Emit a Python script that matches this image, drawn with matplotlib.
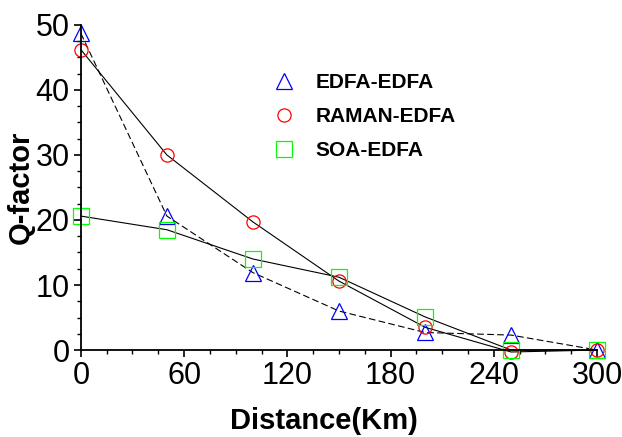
import matplotlib.pyplot as plt
from matplotlib.lines import Line2D
from matplotlib.ticker import MultipleLocator

# Q-factor vs distance for three amplifier combinations
distance = [0, 50, 100, 150, 200, 250, 300]
edfa_edfa = [48.7, 20.6, 11.9, 6.0, 2.7, 2.3, 0]
raman_edfa = [46.2, 30.0, 19.7, 10.6, 3.5, -0.3, 0]
soa_edfa = [20.6, 18.5, 14.0, 11.2, 5.1, 0, 0]

labels = ['EDFA-EDFA', 'RAMAN-EDFA', 'SOA-EDFA']

plt.rcParams['font.family'] = ['Liberation Sans', 'DejaVu Sans']

fig = plt.figure(figsize=(6.22, 4.37), dpi=100)
ax = fig.add_axes([0.130, 0.199, 0.830, 0.744])

# lines first, markers drawn on top
ax.plot(distance, edfa_edfa, color='black', lw=0.8, ls=(0, (6, 3)), clip_on=False)
ax.plot(distance, raman_edfa, color='black', lw=0.8, clip_on=False)
ax.plot(distance, soa_edfa, color='black', lw=0.8, clip_on=False)

ax.plot(distance, edfa_edfa, ls='none', marker='^', ms=11.5, mfc='none', mec='blue', mew=0.9, clip_on=False)
ax.plot(distance, raman_edfa, ls='none', marker='o', ms=9.5, mfc='none', mec='red', mew=0.9, clip_on=False)
ax.plot(distance, soa_edfa, ls='none', marker='s', ms=11.5, mfc='none', mec='lime', mew=0.9, clip_on=False)

ax.set_xlim(0, 300)
ax.set_ylim(0, 50)
ax.xaxis.set_major_locator(MultipleLocator(60))
ax.xaxis.set_minor_locator(MultipleLocator(15))
ax.yaxis.set_major_locator(MultipleLocator(10))
ax.yaxis.set_minor_locator(MultipleLocator(2.5))

for side in ['top', 'right']:
    ax.spines[side].set_visible(False)
for side in ['left', 'bottom']:
    ax.spines[side].set_linewidth(1.3)

ax.tick_params(which='major', length=5, width=1.2, labelsize=22, pad=3)
ax.tick_params(which='minor', length=3, width=1.0)

ax.set_xlabel('Distance(Km)', fontsize=21, fontweight='bold')
ax.xaxis.set_label_coords(0.47, -0.175)
ax.set_ylabel('Q-factor', fontsize=21, fontweight='bold')
ax.yaxis.set_label_coords(-0.09, 0.5)

handles = [
    Line2D([], [], ls='none', marker='^', ms=11.5, mfc='none', mec='blue', mew=0.9),
    Line2D([], [], ls='none', marker='o', ms=9.5, mfc='none', mec='red', mew=0.9),
    Line2D([], [], ls='none', marker='s', ms=11.5, mfc='none', mec='lime', mew=0.9),
]
leg = ax.legend(handles, labels, loc='upper left', bbox_to_anchor=(0.423, 0.856),
                bbox_transform=fig.transFigure, frameon=False, borderpad=0,
                handlelength=1.0, handletextpad=1.0, labelspacing=0.72,
                prop={'size': 15, 'weight': 'bold'})

fig.savefig('out.png', dpi=100)
